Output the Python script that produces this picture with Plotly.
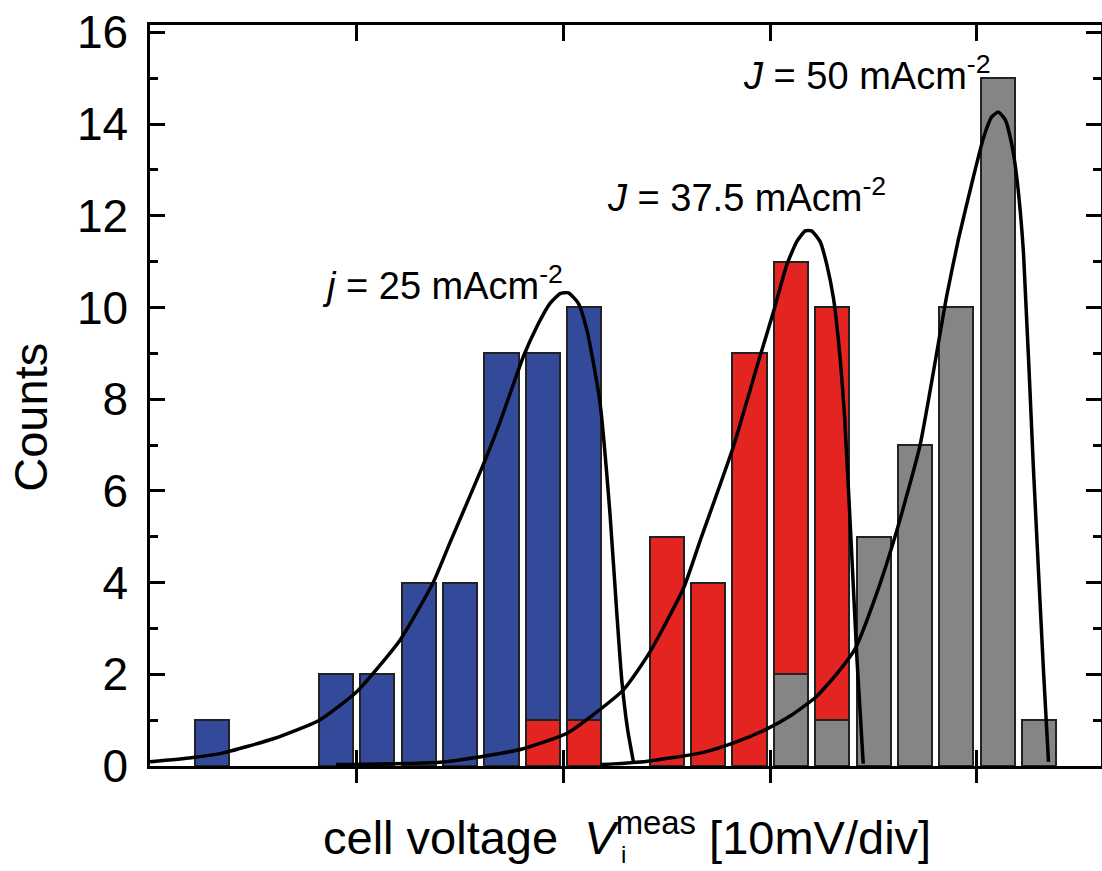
import plotly.graph_objects as go

# ---- data ----
# bin centres in units of mV (10 mV per major division, 2 mV per bin)
blue_x = [3, 9, 11, 13, 15, 17, 19, 21]
blue_y = [1, 2, 2, 4, 4, 9, 9, 10]
red_x = [19, 21, 25, 27, 29, 31, 33]
red_y = [1, 1, 5, 4, 9, 11, 10]
gray_x = [31, 33, 35, 37, 39, 41, 43]
gray_y = [2, 1, 5, 7, 10, 15, 1]

fit1_x = [0, 2, 3.5, 6, 8.2, 10, 12.1, 13.7, 14.5, 16.1, 16.93, 18.06, 18.71, 19.35, 19.84, 20.24, 20.72, 21.13, 21.45, 21.77, 22.25, 22.58, 22.82, 23.1, 23.4]
fit1_y = [0.09, 0.18, 0.28, 0.6, 1.0, 1.62, 2.75, 4.0, 4.86, 6.55, 7.5, 8.93, 9.58, 10.09, 10.3, 10.32, 10.09, 9.51, 8.78, 7.91, 5.5, 3.33, 1.87, 0.8, 0.05]
fit2_x = [9, 14, 17, 18, 20.2, 22.9, 24.2, 25.8, 26.6, 28.2, 29.43, 30.16, 30.8, 31.29, 31.69, 32.0, 32.41, 32.74, 33.06, 33.38, 33.6, 33.9, 34.2, 34.5]
fit2_y = [0.03, 0.08, 0.28, 0.37, 0.72, 1.66, 2.5, 3.87, 4.9, 6.94, 8.82, 9.91, 10.93, 11.44, 11.67, 11.67, 11.44, 10.93, 10.2, 8.9, 7.6, 5.0, 2.3, 0.05]
fit3_x = [21.8, 24.0, 26.6, 28.2, 29.8, 31.0, 32.2, 33.2, 34.1, 35.1, 36.1, 37.25, 38.54, 39.11, 39.83, 40.31, 40.72, 41.04, 41.37, 41.69, 41.93, 42.25, 42.73, 43.22, 43.46]
fit3_y = [0.03, 0.1, 0.28, 0.5, 0.8, 1.1, 1.5, 2.0, 2.55, 3.7, 5.1, 7.0, 10.26, 11.5, 12.85, 13.69, 14.16, 14.26, 14.09, 13.54, 12.82, 11.2, 6.5, 2.06, 0.09]

x_ticks = [10, 20, 30, 40]
y_ticks = [0, 2, 4, 6, 8, 10, 12, 14, 16]

BLUE = "#334a9b"
RED = "#e32420"
GRAY = "#858585"
EDGE = "#222222"
FONT = "Liberation Sans, Arial, sans-serif"

fig = go.Figure()
bw = 1.65
for xs, ys, col in [(blue_x, blue_y, BLUE), (red_x, red_y, RED), (gray_x, gray_y, GRAY)]:
    fig.add_trace(go.Bar(x=xs, y=ys, width=bw, marker=dict(color=col, line=dict(color=EDGE, width=2)),
                         showlegend=False))

for xs, ys in [(fit1_x, fit1_y), (fit2_x, fit2_y), (fit3_x, fit3_y)]:
    fig.add_trace(go.Scatter(x=xs, y=ys, mode="lines",
                             line=dict(color="black", width=3.5, shape="spline", smoothing=0.5),
                             showlegend=False))

# invisible trace for secondary x axis (outside ticks -> crossing ticks)
fig.add_trace(go.Scatter(x=[0], y=[0], xaxis="x2", mode="markers", marker=dict(opacity=0), showlegend=False,
                         hoverinfo="skip"))

fig.update_layout(
    width=1102, height=871,
    margin=dict(l=150, r=1, t=25, b=105),
    paper_bgcolor="white", plot_bgcolor="white",
    barmode="overlay", bargap=0,
    font=dict(family=FONT, color="black"),
    xaxis=dict(range=[0, 46], showgrid=False, zeroline=False, showline=True, linecolor="black", linewidth=2.5,
               mirror="ticks", ticks="inside", ticklen=16, tickwidth=2.5, tickcolor="black",
               tickvals=x_ticks, showticklabels=False, automargin=False),
    xaxis2=dict(range=[0, 46], overlaying="x", anchor="y", side="bottom", showgrid=False, zeroline=False,
                showline=False, ticks="outside", ticklen=16, tickwidth=2.5, tickcolor="black",
                tickvals=x_ticks, showticklabels=False, automargin=False),
    yaxis=dict(range=[0, 16.16], showgrid=False, zeroline=False, showline=True, linecolor="black", linewidth=2.5,
               mirror="ticks", ticks="inside", ticklen=15, tickwidth=2.5, tickcolor="black",
               tickvals=y_ticks, ticktext=[str(v) for v in y_ticks], automargin=False,
               tickfont=dict(size=46, family=FONT), ticklabelstandoff=10,
               minor=dict(dtick=1, ticks="inside", ticklen=8, tickwidth=2.5, tickcolor="black")),
)

fig.add_annotation(text="Counts", xref="paper", yref="paper", x=(31 - 150) / 951, y=0.47, textangle=-90,
                   xanchor="center", yanchor="middle",
                   showarrow=False, font=dict(size=47, family=FONT))
fig.add_annotation(text="cell voltage&nbsp; <i>V</i><sup>meas</sup> [10mV/div]", xref="paper", yref="paper",
                   x=(627 - 150) / 951, y=(766 - 834) / 741, xanchor="center", yanchor="middle",
                   showarrow=False, font=dict(size=47, family=FONT))
fig.add_annotation(text="i", xref="paper", yref="paper", x=(623 - 150) / 951, y=(766 - 855) / 741,
                   xanchor="center", yanchor="middle",
                   showarrow=False, font=dict(size=24, family=FONT))

fig.add_annotation(text="<i>j</i> = 25 mAcm<sup>-2</sup>", x=8.2, y=10.53, xanchor="left", yanchor="middle",
                   showarrow=False, font=dict(size=38, family=FONT))
fig.add_annotation(text="<i>J</i> = 37.5 mAcm<sup>-2</sup>", x=22.0, y=12.45, xanchor="left", yanchor="middle",
                   showarrow=False, font=dict(size=38, family=FONT))
fig.add_annotation(text="<i>J</i> = 50 mAcm<sup>-2</sup>", x=28.6, y=15.11, xanchor="left", yanchor="middle",
                   showarrow=False, font=dict(size=38, family=FONT))

fig.write_html("out.html", config={"displayModeBar": False},
               post_script="document.body.style.margin='0';document.body.style.overflow='hidden';")
